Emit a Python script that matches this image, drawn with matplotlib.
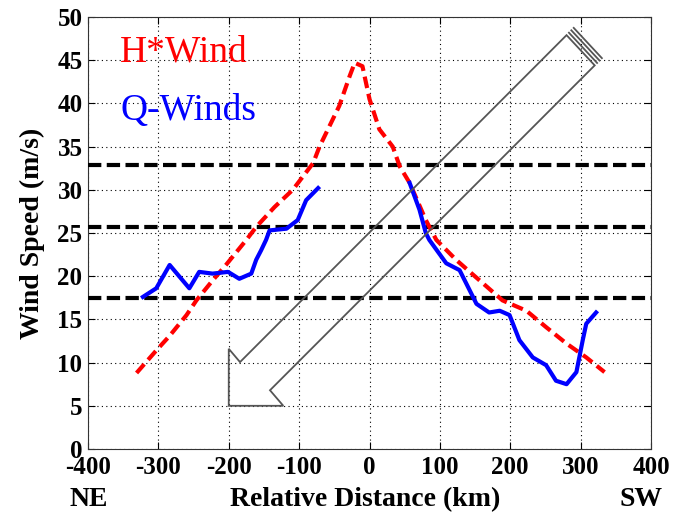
import matplotlib
matplotlib.use("Agg")
import matplotlib.pyplot as plt
from matplotlib.patches import Polygon

# H*Wind analysis profile (km, m/s)
hwind_dist = [-331, -303, -284, -260, -246, -223, -204, -175, -161, -135, -109,
              -80, -71, -43, -28, -21, -10, 0, 14, 33, 43, 57, 80, 95, 123,
              151, 189, 223, 251, 280, 308, 334]
hwind_speed = [8.8, 11.4, 13.1, 15.5, 17.2, 19.5, 21.3, 24.2, 25.7, 28.0, 30.0,
               33.1, 35.0, 39.7, 43.2, 44.7, 44.3, 40.5, 37.0, 35.0, 32.7, 30.8,
               26.5, 24.2, 21.9, 19.9, 17.2, 16.0, 14.1, 12.2, 10.6, 8.9]

# Q-Winds retrievals, NE side
qw_ne_dist = [-322, -303, -284, -256, -242, -223, -201, -185, -168, -161, -154,
              -147, -142, -118, -102, -90, -73]
qw_ne_speed = [17.6, 18.6, 21.3, 18.6, 20.5, 20.3, 20.5, 19.7, 20.3, 21.9, 23.0,
               24.2, 25.3, 25.5, 26.5, 28.8, 30.2]

# Q-Winds retrievals, SW side
qw_sw_dist = [57, 71, 80, 85, 109, 128, 152, 170, 185, 199, 213, 232, 251, 265,
              280, 294, 303, 308, 322]
qw_sw_speed = [30.8, 27.7, 25.0, 24.2, 21.5, 20.7, 16.8, 15.8, 16.0, 15.5, 12.6,
               10.6, 9.7, 7.9, 7.5, 8.9, 12.6, 14.5, 15.8]

# Wind-speed thresholds (34, 50 and 64 kt)
thresholds = [17.5, 25.7, 32.9]

x_ticks = [-400, -300, -200, -100, 0, 100, 200, 300, 400]
y_ticks = [0, 5, 10, 15, 20, 25, 30, 35, 40, 45, 50]

# Hollow direction arrow (data coordinates)
arrow_outline = [(-200, 5.0), (-200, 11.6), (-184, 10.06), (280, 47.9),
                 (320, 44.4), (-141.4, 6.8), (-122.5, 5.0)]

serif = ["Liberation Serif", "DejaVu Serif"]
plt.rcParams["font.family"] = serif
plt.rcParams["axes.unicode_minus"] = False

W, H = 683, 514
fig = plt.figure(figsize=(W / 100, H / 100), dpi=100)
ax = fig.add_axes([88 / W, 1 - 449 / H, 563 / W, 432 / H])

ax.set_xlim(-400, 400)
ax.set_ylim(0, 50)
ax.set_xticks(x_ticks)
ax.set_yticks(y_ticks)
ax.grid(True, color="black", linestyle=(0, (1, 3)), linewidth=0.8)
ax.tick_params(direction="in", top=True, right=True, length=5, width=0.8,
               labelsize=18)
ax.tick_params(axis="x", pad=5)
ax.tick_params(axis="y", pad=4)
for lab in ax.get_xticklabels() + ax.get_yticklabels():
    lab.set_fontweight("bold")
for sp in ax.spines.values():
    sp.set_linewidth(0.8)
    sp.set_color("#333333")

for t in thresholds:
    ax.axhline(t, color="black", linewidth=3.0, dashes=(3.2, 1.3), zorder=3)

ax.plot(hwind_dist, hwind_speed, color="red", linewidth=3.0,
        dashes=(2.8, 1.4), zorder=4)
ax.plot(qw_ne_dist, qw_ne_speed, color="blue", linewidth=3.0, zorder=4)
ax.plot(qw_sw_dist, qw_sw_speed, color="blue", linewidth=3.0, zorder=4)

arrow_color = "#555555"
ax.add_patch(Polygon(arrow_outline, closed=True, fill=False,
                     edgecolor=arrow_color, linewidth=1.3, zorder=5))
# striped tail end
(tx0, ty0), (tx1, ty1) = arrow_outline[3], arrow_outline[4]
for k in (1, 2, 3):
    dx, dy = 3.4 * k, 0.28 * k
    ax.plot([tx0 + dx, tx1 + dx], [ty0 + dy, ty1 + dy], color=arrow_color,
            linewidth=1.3, zorder=5)

ax.text(-354, 44.8, "H*Wind", color="red", fontsize=27, va="baseline")
ax.text(-354, 38.1, "Q-Winds", color="blue", fontsize=27, va="baseline")

fig.text(32 / W, 1 - 233 / H, "Wind Speed (m/s)", fontsize=20,
         fontweight="bold", rotation=90, ha="center", va="center")
fig.text(365 / W, 1 - 506 / H, "Relative Distance (km)", fontsize=20,
         fontweight="bold", ha="center", va="baseline")
fig.text(89 / W, 1 - 506 / H, "NE", fontsize=20, fontweight="bold",
         ha="center", va="baseline")
fig.text(641 / W, 1 - 506 / H, "SW", fontsize=20, fontweight="bold",
         ha="center", va="baseline")

fig.savefig("out.png", dpi=100)
